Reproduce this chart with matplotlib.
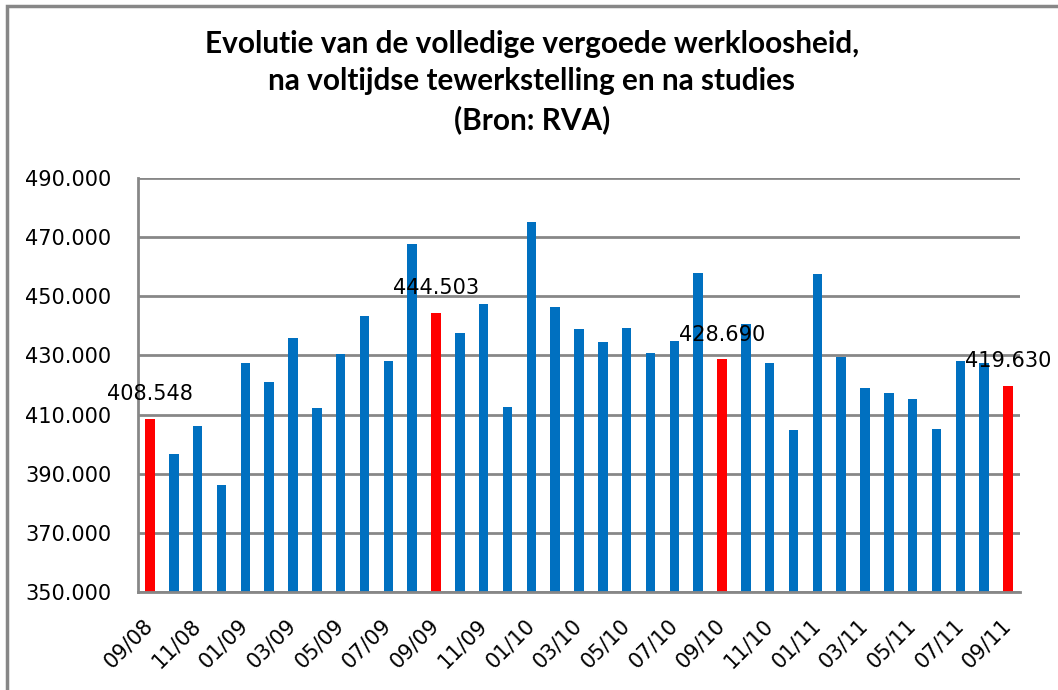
import matplotlib
matplotlib.use("Agg")
import matplotlib.pyplot as plt
from matplotlib.patches import Rectangle
from matplotlib.ticker import FuncFormatter

months = ["09/08", "10/08", "11/08", "12/08", "01/09", "02/09", "03/09", "04/09",
          "05/09", "06/09", "07/09", "08/09", "09/09", "10/09", "11/09", "12/09",
          "01/10", "02/10", "03/10", "04/10", "05/10", "06/10", "07/10", "08/10",
          "09/10", "10/10", "11/10", "12/10", "01/11", "02/11", "03/11", "04/11",
          "05/11", "06/11", "07/11", "08/11", "09/11"]
values = [408548, 396800, 406200, 386300, 427300, 421100, 436000, 412300,
          430400, 443400, 428200, 467700, 444503, 437600, 447400, 412700,
          475100, 446500, 438900, 434600, 439300, 430700, 434900, 457900,
          428690, 440600, 427600, 404900, 457600, 429600, 419000, 417300,
          415400, 405000, 428100, 427500, 419630]
highlight_months = ["09/08", "09/09", "09/10", "09/11"]
yticks = [350000, 370000, 390000, 410000, 430000, 450000, 470000, 490000]
title = ("Evolutie van de volledige vergoede werkloosheid,\n"
         "na voltijdse tewerkstelling en na studies\n"
         "(Bron: RVA)")

BLUE = "#0070C0"
RED = "#FF0000"
GRAY = "#878787"

fig = plt.figure(figsize=(10.58, 6.90), dpi=100)
ax = fig.add_axes([138 / 1058, 1 - 592 / 690, (1020 - 138) / 1058, (592 - 178) / 690])

x = list(range(len(months)))
colors = [RED if m in highlight_months else BLUE for m in months]
ax.bar(x, values, width=0.4, color=colors, zorder=3)

for i, (m, v) in enumerate(zip(months, values)):
    if m in highlight_months:
        lab = f"{v:,}".replace(",", ".")
        ax.annotate(lab, (i, v), xytext=(0, 13.5), textcoords="offset points",
                    ha="center", va="baseline", fontsize=15, family="DejaVu Sans",
                    zorder=5, annotation_clip=False)

ax.set_xlim(-0.5, len(months) - 0.5)
ax.set_ylim(yticks[0], yticks[-1])
ax.set_yticks(yticks)
ax.yaxis.set_major_formatter(FuncFormatter(lambda v, p: f"{int(v):,}".replace(",", ".")))
ax.grid(axis="y", color=GRAY, linewidth=2, zorder=0)
ax.set_axisbelow(True)

ax.set_xticks(x)
ax.set_xticklabels([m if i % 2 == 0 else "" for i, m in enumerate(months)])
ax.tick_params(axis="x", length=0, pad=21.5, labelsize=15)
ax.tick_params(axis="y", length=0, pad=19, labelsize=15)
for lbl in ax.get_xticklabels():
    lbl.set_rotation(45)
    lbl.set_rotation_mode("anchor")
    lbl.set_ha("right")
    lbl.set_va("center")

for s in ["top", "right"]:
    ax.spines[s].set_visible(False)
for s in ["left", "bottom"]:
    ax.spines[s].set_color(GRAY)
    ax.spines[s].set_linewidth(2)
    ax.spines[s].set_zorder(4)

fig.text(532 / 1058, 1 - 82 / 690, title, ha="center", va="center",
         fontsize=21.4, fontweight="bold", linespacing=1.4,
         family=["Lato", "DejaVu Sans"])

# outer chart border
fig.patches.append(Rectangle((7 / 1058, -0.1), 1.2, 1 - 6 / 690 + 0.1,
                             transform=fig.transFigure, fill=False,
                             edgecolor=GRAY, linewidth=2.5))

fig.savefig("out.png", dpi=100)
